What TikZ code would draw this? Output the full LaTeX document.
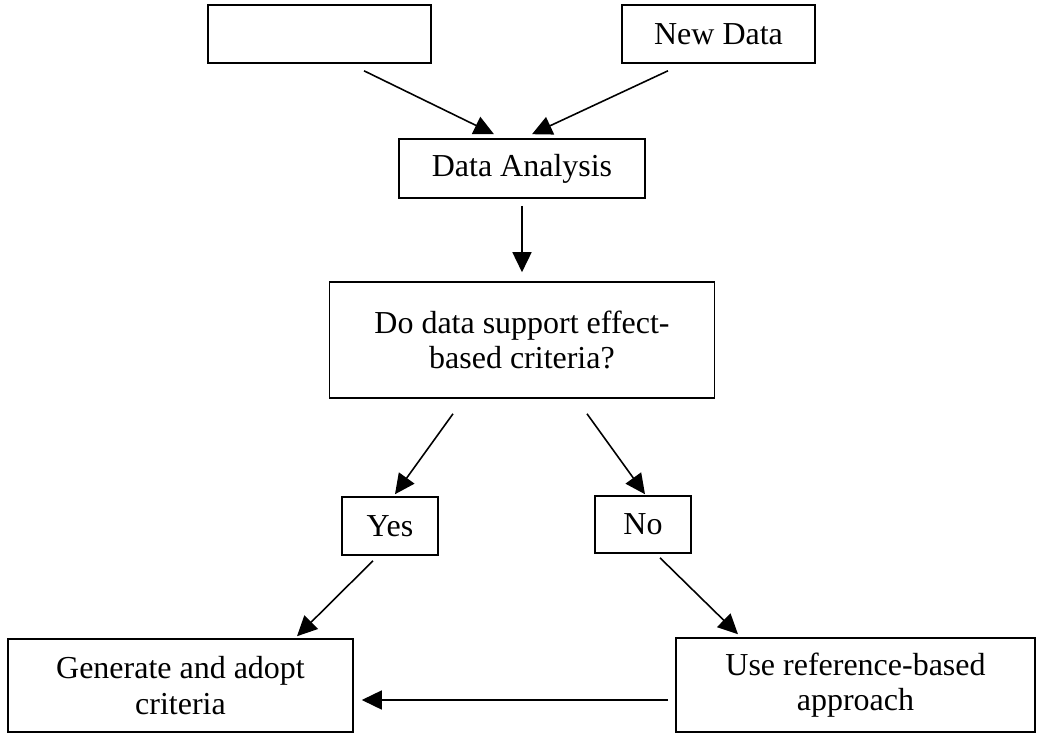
\documentclass[tikz,border=0pt]{standalone}
\usepackage{fontspec}
\setmainfont{Liberation Serif}
\usetikzlibrary{arrows.meta}
\tikzset{
    flowbox/.style={draw, line width=0.9pt, align=center, inner sep=2pt,
        font=\fontsize{18.2pt}{20pt}\selectfont},
    flowarrow/.style={line width=0.9pt, -{Triangle[length=0.4cm, width=0.38cm]}}
}

\begin{document}
\begin{tikzpicture}
        \useasboundingbox (0, 0) rectangle (20.74, -14.66);
        % top row
        \node[flowbox, minimum width=4.46cm, minimum height=1.16cm] (blank) at (6.39, -0.68) {};
        \node[flowbox, minimum width=3.86cm, minimum height=1.16cm] (newdata) at (14.37, -0.68) {New Data};
        \node[flowbox, minimum width=4.92cm, minimum height=1.18cm] (analysis) at (10.44, -3.37) {Data Analysis};
        \node[flowbox, minimum width=7.7cm, minimum height=2.32cm] (question) at (10.44, -6.8)
            {Do data support effect-\\based criteria?};
        % answers
        \node[flowbox, minimum width=1.92cm, minimum height=1.16cm] (yes) at (7.8, -10.52) {Yes};
        \node[flowbox, minimum width=1.92cm, minimum height=1.14cm] (no) at (12.86, -10.49) {No};
        \node[flowbox, minimum width=6.9cm, minimum height=1.86cm] (generate) at (3.61, -13.71)
            {Generate and adopt\\criteria};
        \node[flowbox, minimum width=7.18cm, minimum height=1.88cm] (reference) at (17.11, -13.7)
            {Use reference-based\\approach};
        % connectors
        \draw[flowarrow] ([shift={(0.89,-0.14)}]blank.south) -- ([shift={(-0.56,0.08)}]analysis.north);
        \draw[flowarrow] ([shift={(-1.01,-0.14)}]newdata.south) -- ([shift={(0.2,0.08)}]analysis.north);
        \draw[flowarrow] ([yshift=-0.14cm]analysis.south) -- ([yshift=0.18cm]question.north);
        \draw[flowarrow] ([shift={(-1.38,-0.3)}]question.south) -- ([shift={(0.1,0.04)}]yes.north);
        \draw[flowarrow] ([shift={(1.3,-0.3)}]question.south) -- ([shift={(0.04,0.02)}]no.north);
        \draw[flowarrow] ([shift={(-0.34,-0.1)}]yes.south) -- ([shift={(2.33,0.04)}]generate.north);
        \draw[flowarrow] ([shift={(0.34,-0.08)}]no.south) -- ([shift={(-2.35,0.06)}]reference.north);
        \draw[flowarrow] ([shift={(-0.14,-0.3)}]reference.west) -- ([shift={(0.16,-0.29)}]generate.east);
    \end{tikzpicture}
\end{document}
